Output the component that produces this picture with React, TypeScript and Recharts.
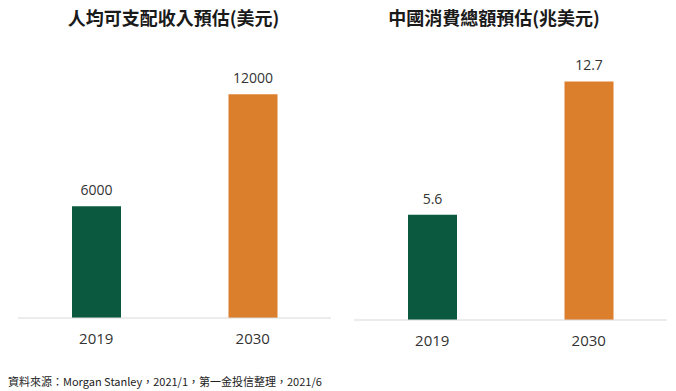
import { BarChart, Bar, XAxis, YAxis, LabelList, Cell } from 'recharts';

const years = ['2019', '2030'];
const incomeUsd = [6000, 12000];
const consumptionTrillionUsd = [5.6, 12.7];
const barColors = ['#0b5a40', '#dc7f2c'];

const incomeRows = years.map((y, i) => ({ year: y, value: incomeUsd[i] }));
const consumptionRows = years.map((y, i) => ({ year: y, value: consumptionTrillionUsd[i] }));

const font = '"Open Sans", "Noto Sans CJK TC", sans-serif';
const titleStyle = {
  position: 'absolute' as const,
  top: 5,
  fontFamily: '"Noto Sans CJK TC", sans-serif',
  fontWeight: 700,
  fontSize: 18,
  color: '#1a1a1a',
  textAlign: 'center' as const,
  lineHeight: '24px',
};

function Panel({ rows, max, margin, width }: { rows: { year: string; value: number }[]; max: number; margin: any; width: number }) {
  return (
    <BarChart width={width} height={391} data={rows} margin={margin} barSize={49}>
      <XAxis dataKey="year" height={30} axisLine={{ stroke: '#d9d9d9' }} tickLine={false} tickSize={0} tickMargin={15}
        tick={{ fill: '#333', fontSize: 15, fontFamily: font }} />
      <YAxis hide domain={[0, max]} />
      <Bar dataKey="value" isAnimationActive={false}>
        {rows.map((_, i) => <Cell key={i} fill={barColors[i]} />)}
        <LabelList dataKey="value" position="top" offset={11} fill="#333" fontSize={14} fontFamily={font} />
      </Bar>
    </BarChart>
  );
}

export default function App() {
  return (
    <div style={{ position: 'absolute', left: 0, top: 0, width: 676, height: 391, background: '#fff', overflow: 'hidden' }}>
      <div style={{ ...titleStyle, left: 0, width: 347 }}>人均可支配收入預估(美元)</div>
      <div style={{ ...titleStyle, left: 338, width: 312 }}>中國消費總額預估(兆美元)</div>
      <div style={{ position: 'absolute', left: 0, top: 0 }}>
        <Panel rows={incomeRows} max={14000} width={345} margin={{ top: 57, right: 14, bottom: 43, left: 18 }} />
      </div>
      <div style={{ position: 'absolute', left: 338, top: 0 }}>
        <Panel rows={consumptionRows} max={14} width={338} margin={{ top: 57, right: 9, bottom: 41, left: 16 }} />
      </div>
      <div style={{ position: 'absolute', left: 8, top: 373, fontSize: 11, fontFamily: '"Noto Sans CJK TC", sans-serif', color: '#222', lineHeight: '16px' }}>
        資料來源：Morgan Stanley，2021/1，第一金投信整理，2021/6
      </div>
    </div>
  );
}
